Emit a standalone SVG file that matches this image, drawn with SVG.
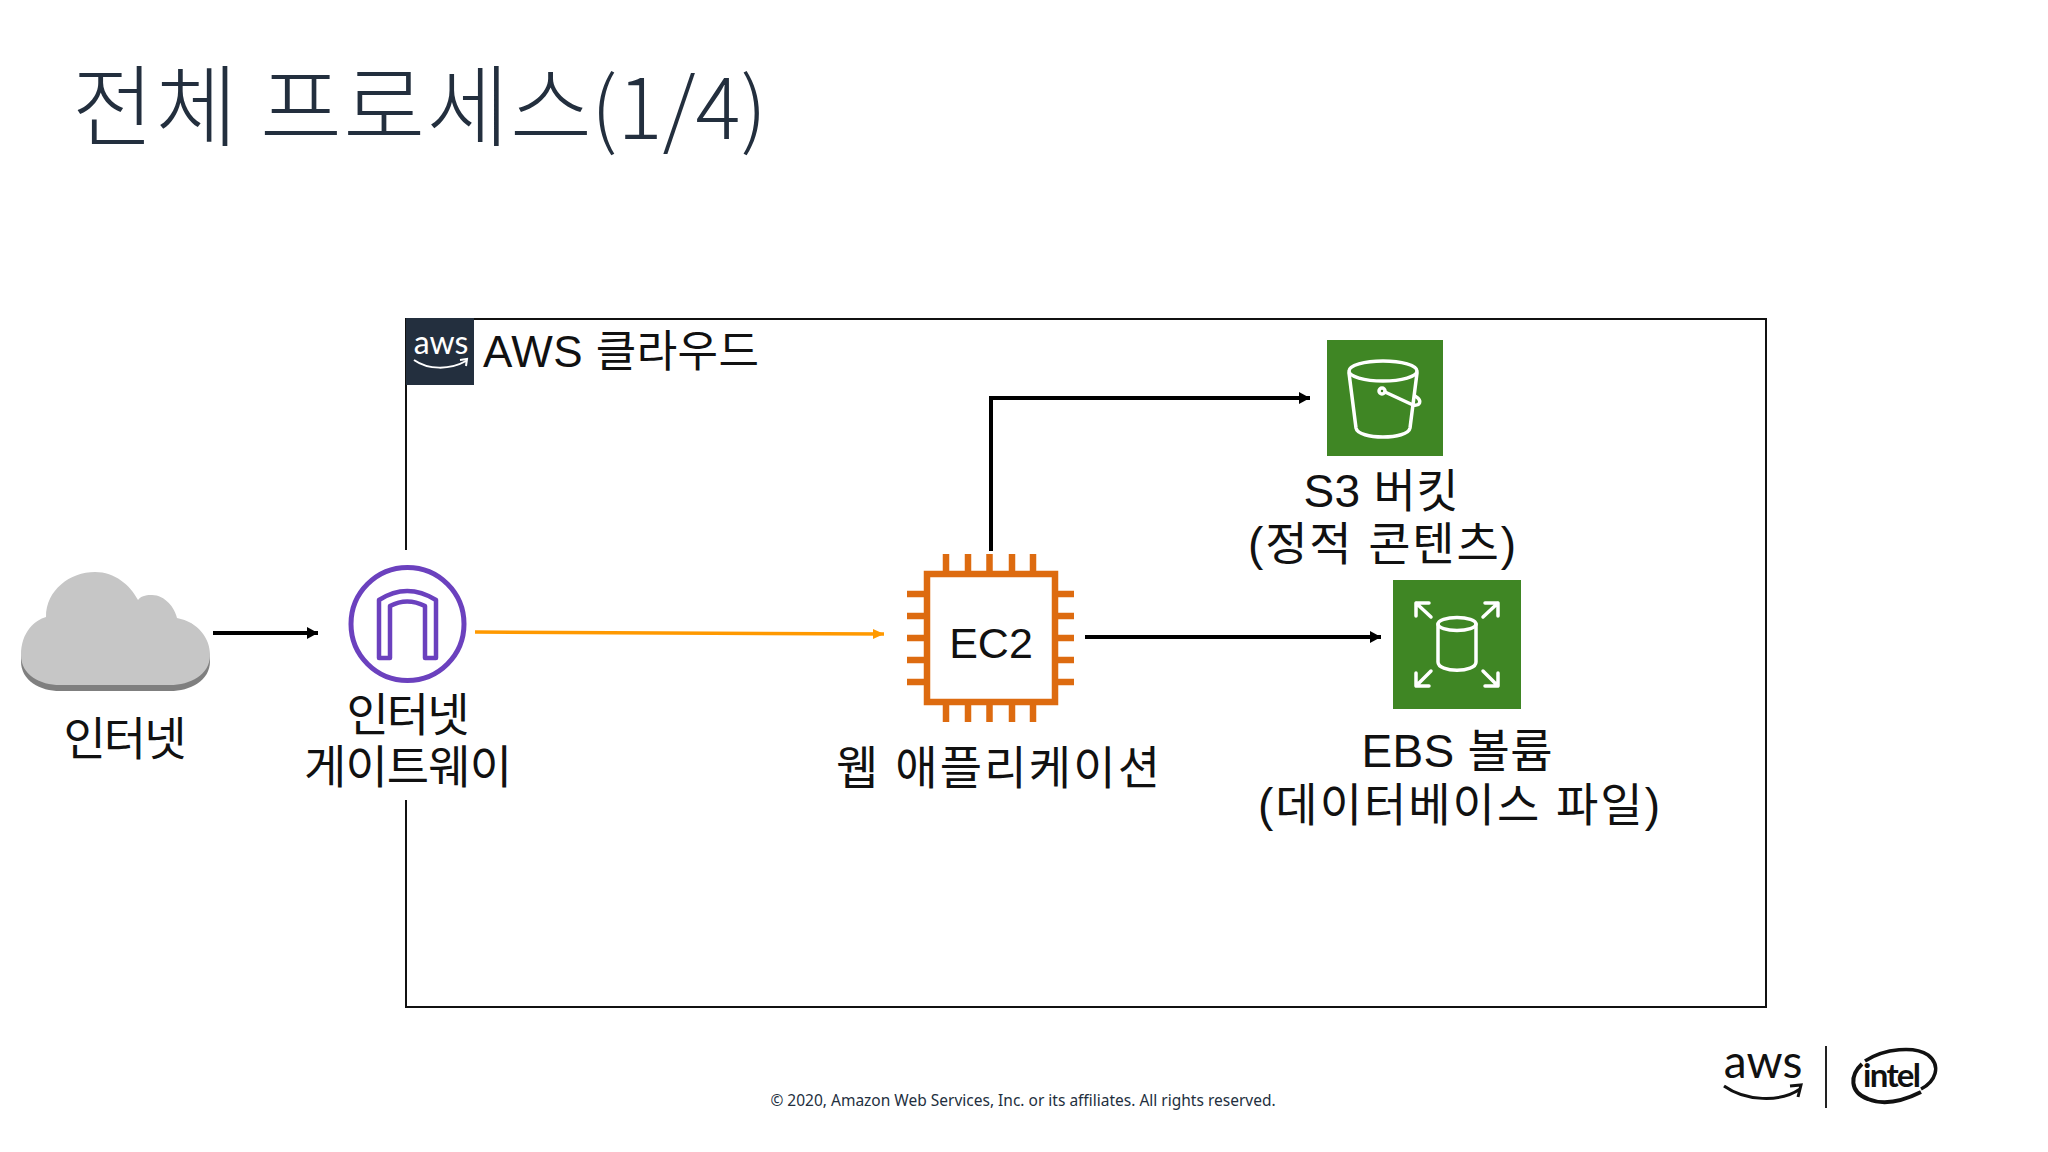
<svg xmlns="http://www.w3.org/2000/svg" width="2048" height="1152" viewBox="0 0 2048 1152">
<style>
text{font-family:"Liberation Sans","Noto Sans CJK KR",sans-serif;fill:#111}
.lbl{font-size:46px;text-anchor:middle}
.title{font-family:"Noto Sans CJK KR","Noto Sans",sans-serif;font-weight:300;font-size:89px;fill:#232F3E}
.ln{fill:none;stroke:#000;stroke-width:4}
.ic{fill:none;stroke:#fff;stroke-width:3.5;stroke-linejoin:round;stroke-linecap:round}
.pin{stroke:#DD6B10;stroke-width:6.500}
.logo{font-family:"Lato","Noto Sans",sans-serif}
</style>
<defs>
<marker id="ab" markerUnits="userSpaceOnUse" markerWidth="12" markerHeight="12" refX="11" refY="6" orient="auto"><path d="M0 0L11 6L0 12z" fill="#000"/></marker>
<marker id="ao" markerUnits="userSpaceOnUse" markerWidth="12" markerHeight="12" refX="11" refY="6" orient="auto"><path d="M0 1L11 6L0 11z" fill="#F90"/></marker>
</defs>
<rect width="2048" height="1152" fill="#fff"/>
<text class="title" x="72" y="139" letter-spacing="1.500">전체 프로세스<tspan x="591" font-size="84" letter-spacing="0">(1/4)</tspan></text>
<g id="aws-cloud">
<path d="M406 550V319H1766V1007H406V800" fill="none" stroke="#111" stroke-width="2"/>
<rect x="406" y="318" width="68" height="67" fill="#232F3E"/>
<text class="logo" x="441" y="354" font-size="32" text-anchor="middle" style="fill:#fff">aws</text>
<path d="M414 360C428 370 450 370 466 361M460 360L467 359L466 366" fill="none" stroke="#fff" stroke-width="2"/>
<text x="483" y="367" font-size="44" textLength="276" style="fill:#111">AWS 클라우드</text>
</g>
<g id="connectors">
<path class="ln" d="M213 633H318" marker-end="url(#ab)"/>
<path d="M475 632L884 634" fill="none" stroke="#F90" stroke-width="3.5" marker-end="url(#ao)"/>
<path class="ln" d="M991 551V398H1310" marker-end="url(#ab)"/>
<path class="ln" d="M1085 637H1381" marker-end="url(#ab)"/>
</g>
<g id="internet">
<path d="M21 661C21 638 35 626 46 623H190C198 628 210 644 210 661C210 681 190 691 170 691H60C40 691 21 681 21 661Z" fill="#7F7F7F"/>
<path d="M21 655C21 632 35 620 46 617C46 590 70 572 95 572C115 572 130 585 138 600C142 595 148 595 152 595C165 595 175 608 177 618C198 622 210 638 210 655C210 675 190 685 170 685H60C40 685 21 675 21 655Z" fill="#C6C6C6"/>
<text class="lbl" x="125" y="755" textLength="123">인터넷</text>
</g>
<g id="igw">
<circle cx="407.500" cy="624" r="56.500" fill="none" stroke="#6B41BE" stroke-width="5"/>
<path d="M379 658V600Q407 582 436 600V658H425V606Q407 597 390 606V658Z" fill="none" stroke="#6B41BE" stroke-width="4.500" stroke-linejoin="round"/>
<text class="lbl" x="408" y="731" textLength="123">인터넷</text>
<text class="lbl" x="408" y="783" textLength="208">게이트웨이</text>
</g>
<g id="ec2">
<rect x="927" y="574" width="128" height="128" fill="#fff" stroke="#DD6B10" stroke-width="6.500"/>
<path class="pin" d="M946 554V571M968 554V571M989.500 554V571M1012 554V571M1033 554V571M946 705V722M968 705V722M989.500 705V722M1012 705V722M1033 705V722M907 594H924M907 616H924M907 638H924M907 660H924M907 682H924M1058 594H1074M1058 616H1074M1058 638H1074M1058 660H1074M1058 682H1074"/>
<text x="991" y="658" font-size="43" text-anchor="middle">EC2</text>
<text class="lbl" x="998" y="784" textLength="324">웹 애플리케이션</text>
</g>
<g id="s3">
<rect x="1327" y="340" width="116" height="116" fill="#3F8624"/>
<ellipse class="ic" cx="1383" cy="371" rx="34" ry="10"/>
<path class="ic" d="M1349 373L1356 428C1358 440 1408 440 1410 428L1417 373"/>
<circle class="ic" cx="1382" cy="391" r="3"/>
<path class="ic" d="M1385 392L1413 405C1420 406 1423 401 1415 396"/>
<text class="lbl" x="1381" y="507" textLength="155">S3 버킷</text>
<text class="lbl" x="1382" y="560" textLength="268">(정적 콘텐츠)</text>
</g>
<g id="ebs">
<rect x="1393" y="580" width="128" height="129" fill="#3F8624"/>
<ellipse class="ic" cx="1457" cy="624" rx="19" ry="6.500"/>
<path class="ic" d="M1438 624V662C1438 673 1476 673 1476 662V624"/>
<path class="ic" d="M1431 617L1416 603M1416 616V603H1429M1483 617L1498 603M1498 616V603H1485M1431 671L1416 686M1416 673V686H1429M1483 671L1498 686M1498 673V686H1485"/>
<text class="lbl" x="1457" y="767" textLength="191">EBS 볼륨</text>
<text class="lbl" x="1459" y="821" textLength="402">(데이터베이스 파일)</text>
</g>
<text x="1023" y="1106" font-size="15.500" text-anchor="middle" style="font-family:'Noto Sans',sans-serif;fill:#232F3E">© 2020, Amazon Web Services, Inc. or its affiliates. All rights reserved.</text>
<g id="logos">
<text class="logo" x="1763" y="1078" font-size="46" text-anchor="middle" style="fill:#111">aws</text>
<path d="M1724 1086C1745 1101 1780 1103 1800 1089M1790 1086L1801 1085L1798 1097" fill="none" stroke="#111" stroke-width="3"/>
<path d="M1826 1046V1108" stroke="#222" stroke-width="2"/>
<path d="M1865 1061C1885 1048 1915 1046 1928 1055C1942 1066 1935 1082 1921 1089" fill="none" stroke="#111" stroke-width="3.500"/>
<path d="M1862 1064C1850 1075 1849 1092 1868 1099C1885 1106 1905 1100 1921 1092" fill="none" stroke="#111" stroke-width="4"/>
<text class="logo" x="1863" y="1087" font-size="33" font-weight="700" style="fill:#111" textLength="58">intel</text>
</g>
</svg>
